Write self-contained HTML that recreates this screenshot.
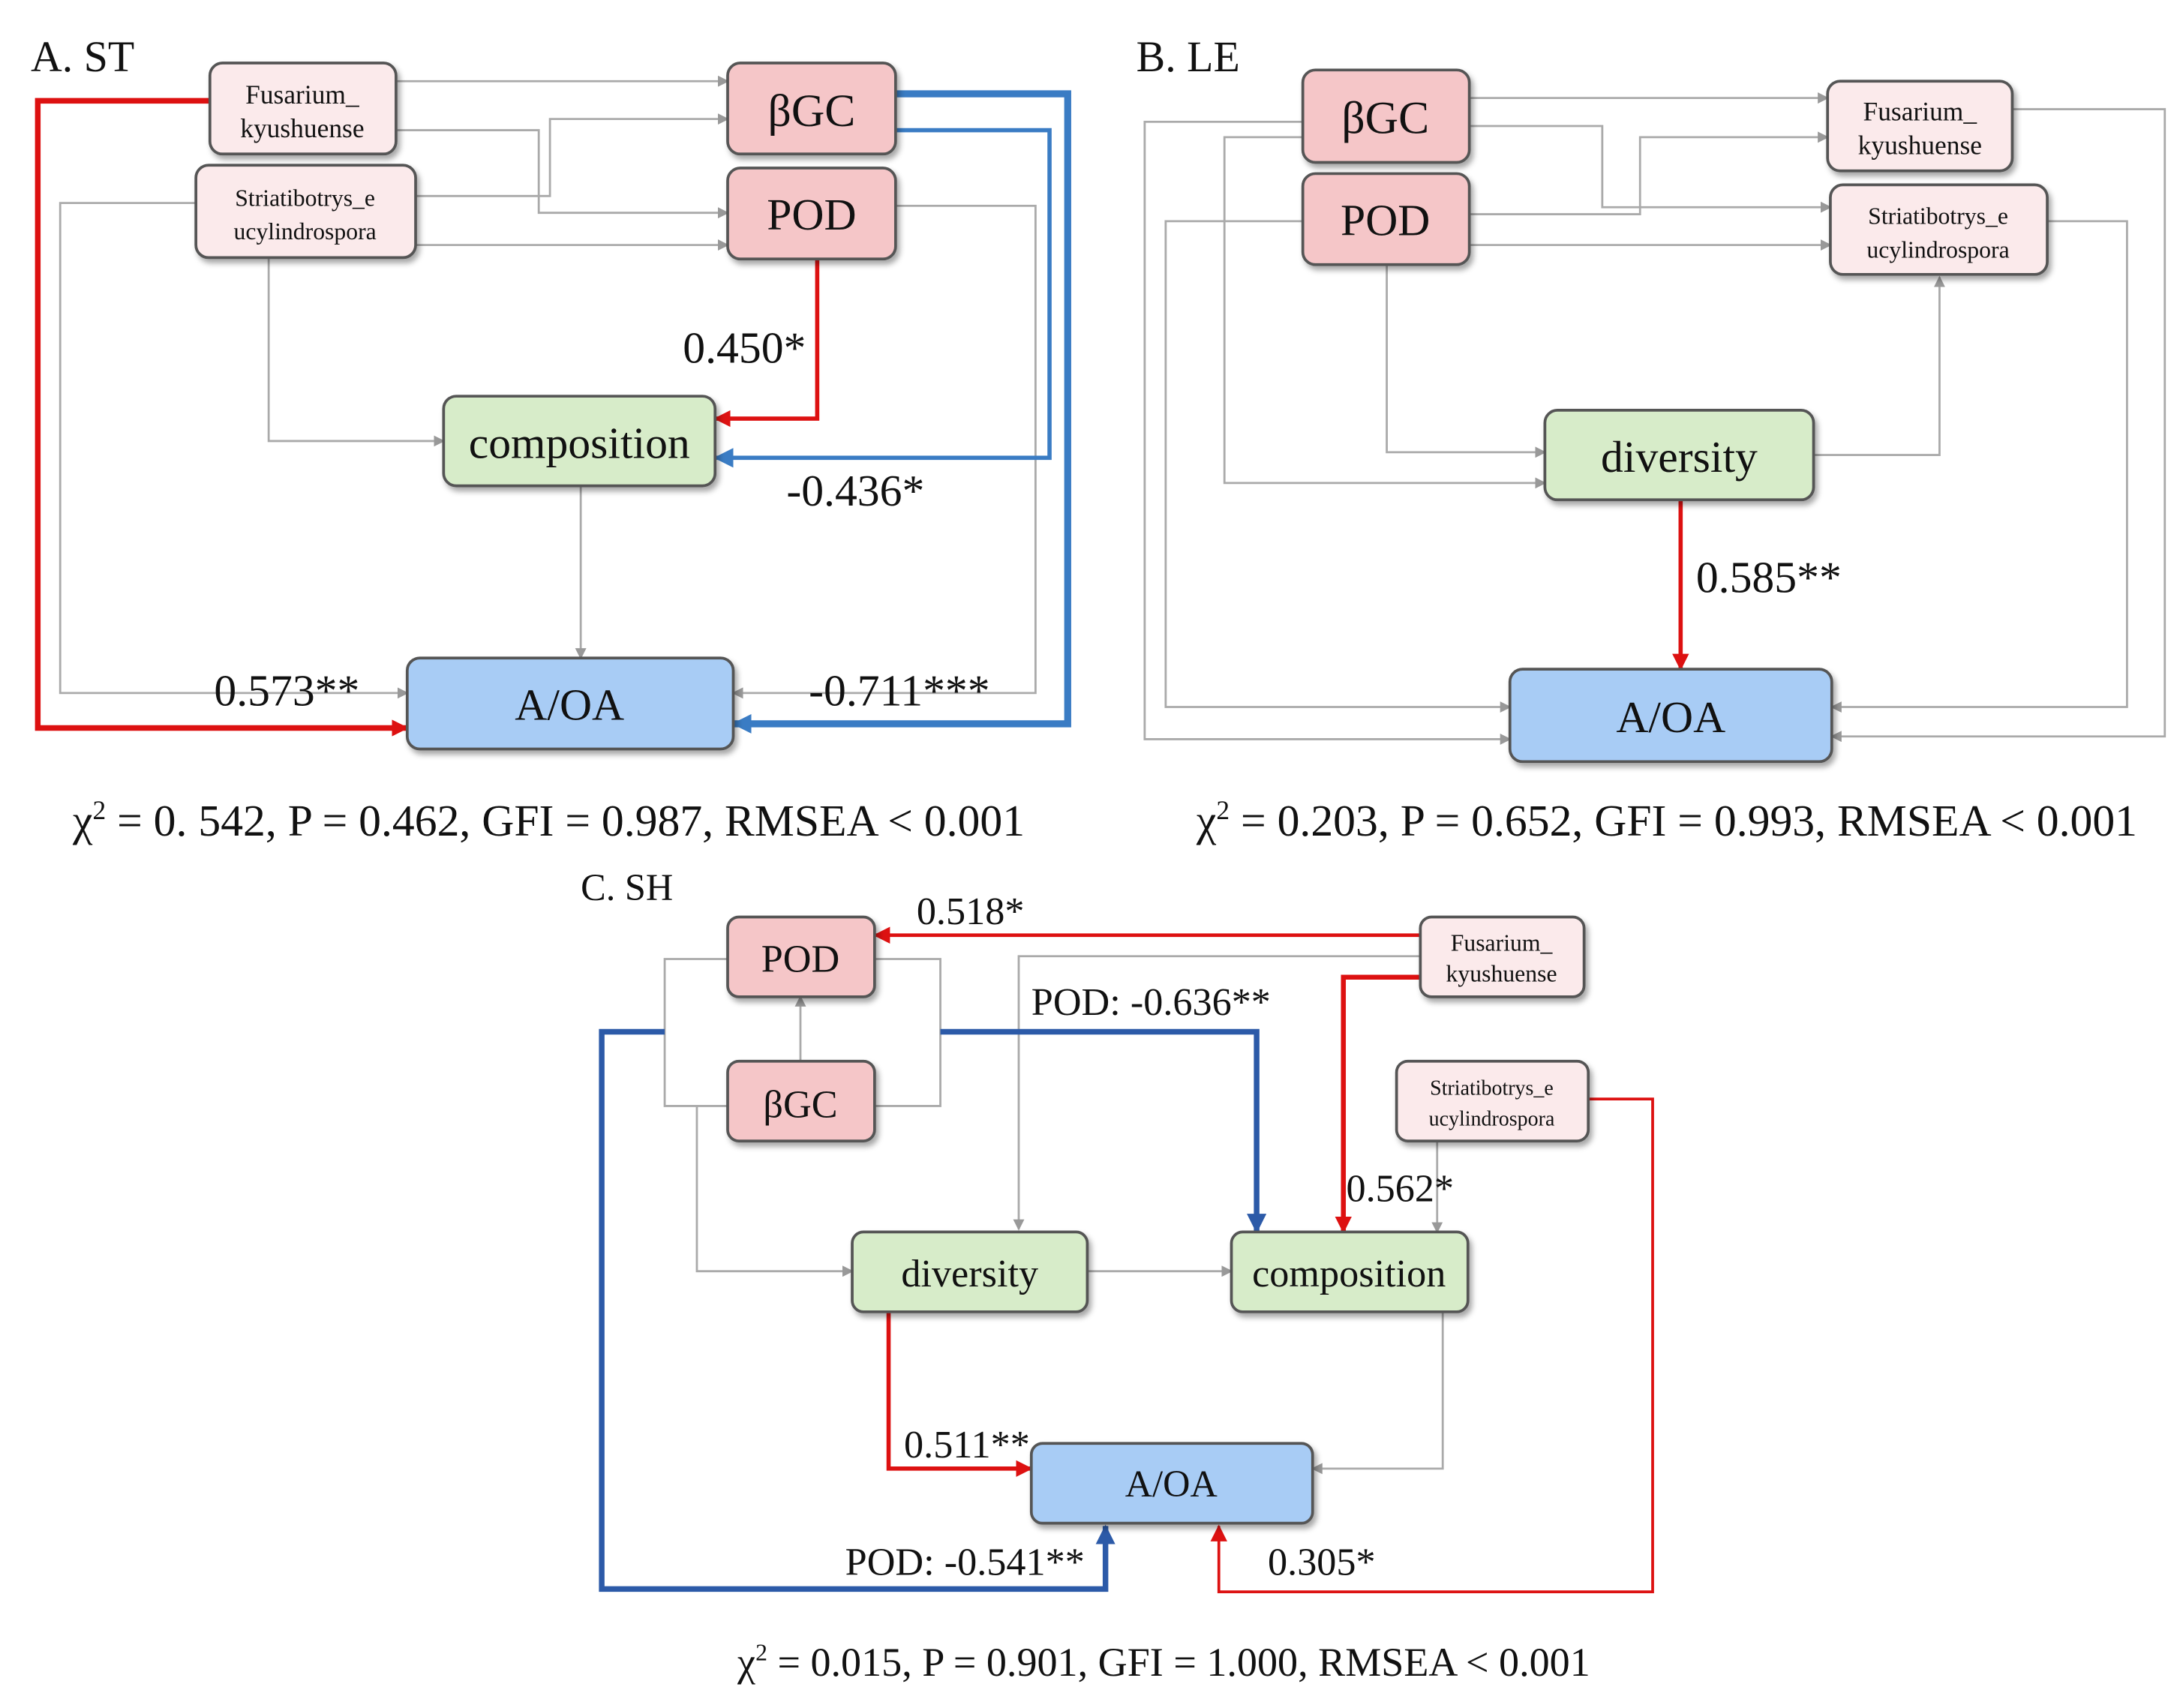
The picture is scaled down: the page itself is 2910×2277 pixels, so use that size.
<!DOCTYPE html>
<html><head><meta charset="utf-8"><style>
html,body{margin:0;padding:0;background:#fff;}
svg{display:block;}
text{font-family:"Liberation Serif",serif;fill:#111;}
</style></head><body>
<svg width="2910" height="2277" viewBox="0 0 1560 1220" preserveAspectRatio="none" xmlns="http://www.w3.org/2000/svg">
<defs>
<marker id="ag" markerWidth="8" markerHeight="8" refX="7" refY="4" orient="auto" markerUnits="userSpaceOnUse"><path d="M0,0 L8,4 L0,8 z" fill="#999"/></marker>
<marker id="ar" markerWidth="12" markerHeight="12" refX="11" refY="6" orient="auto" markerUnits="userSpaceOnUse"><path d="M0,0 L12,6 L0,12 z" fill="#d11"/></marker>
<marker id="ab" markerWidth="14" markerHeight="14" refX="13" refY="7" orient="auto" markerUnits="userSpaceOnUse"><path d="M0,0 L14,7 L0,14 z" fill="#3a7cc4"/></marker>
<marker id="ab2" markerWidth="14" markerHeight="14" refX="13" refY="7" orient="auto" markerUnits="userSpaceOnUse"><path d="M0,0 L14,7 L0,14 z" fill="#2c5aa8"/></marker>
<filter id="sh" x="-10%" y="-10%" width="125%" height="130%"><feDropShadow dx="2" dy="3" stdDeviation="2" flood-color="#000" flood-opacity="0.35"/></filter>
</defs>
<g fill="none" stroke-linejoin="miter">
<g stroke="#aaa" stroke-width="1.5" marker-end="url(#ag)">
<polyline points="283,58 520,58"/>
<polyline points="283,93 385,93 385,152 520,152"/>
<polyline points="297,140 393,140 393,85 520,85"/>
<polyline points="297,175 520,175"/>
<polyline points="140,145 43,145 43,495 291,495"/>
<polyline points="192,184 192,315 317,315"/>
<polyline points="640,147 740,147 740,495 524,495"/>
<polyline points="415,347 415,470"/>
</g>
<polyline points="150,72 27,72 27,520 291,520" stroke="#d11" stroke-width="4" marker-end="url(#ar)"/>
<polyline points="584,185 584,299 511,299" stroke="#d11" stroke-width="3" marker-end="url(#ar)"/>
<polyline points="640,67 763,67 763,517 524,517" stroke="#3a7cc4" stroke-width="5" marker-end="url(#ab)"/>
<polyline points="640,93 750,93 750,327 511,327" stroke="#3a7cc4" stroke-width="3" marker-end="url(#ab)"/>
<g stroke="#aaa" stroke-width="1.5" marker-end="url(#ag)">
<polyline points="1050,70 1306,70"/>
<polyline points="1050,90 1145,90 1145,148 1308,148"/>
<polyline points="1050,153 1172,153 1172,98 1306,98"/>
<polyline points="1050,175 1308,175"/>
<polyline points="931,87 818,87 818,528 1079,528"/>
<polyline points="931,98 875,98 875,345 1104,345"/>
<polyline points="931,158 833,158 833,505 1079,505"/>
<polyline points="991,189 991,323 1104,323"/>
<polyline points="1296,325 1386,325 1386,198"/>
<polyline points="1438,78 1547,78 1547,526 1309,526"/>
<polyline points="1463,158 1520,158 1520,505 1309,505"/>
</g>
<polyline points="1201,357 1201,478" stroke="#d11" stroke-width="3" marker-end="url(#ar)"/>
<g stroke="#aaa" stroke-width="1.5">
<polyline points="520,685 475,685 475,790 520,790"/>
<polyline points="625,790 672,790 672,685 625,685"/>
<polyline points="572,758 572,712" marker-end="url(#ag)"/>
<polyline points="1015,683 728,683 728,878" marker-end="url(#ag)"/>
<polyline points="498,790 498,908 609,908" marker-end="url(#ag)"/>
<polyline points="777,908 880,908" marker-end="url(#ag)"/>
<polyline points="1027,815 1027,880" marker-end="url(#ag)"/>
<polyline points="1031,937 1031,1049 938,1049" marker-end="url(#ag)"/>
</g>
<polyline points="1015,668 625,668" stroke="#d11" stroke-width="2.5" marker-end="url(#ar)"/>
<polyline points="1015,698 960,698 960,880" stroke="#d11" stroke-width="3.5" marker-end="url(#ar)"/>
<polyline points="635,937 635,1049 737,1049" stroke="#d11" stroke-width="3" marker-end="url(#ar)"/>
<polyline points="1135,785 1181,785 1181,1137 871,1137 871,1090" stroke="#d11" stroke-width="2" marker-end="url(#ar)"/>
<polyline points="475,737 430,737 430,1135 790,1135 790,1090" stroke="#2c5aa8" stroke-width="4" marker-end="url(#ab2)"/>
<polyline points="672,737 898,737 898,880" stroke="#2c5aa8" stroke-width="4" marker-end="url(#ab2)"/>
</g>
<g stroke="#555" stroke-width="2" filter="url(#sh)">
<rect x="150" y="45" width="133" height="65" rx="9" fill="#fbeaeb"/>
<rect x="140" y="118" width="157" height="66" rx="9" fill="#fbeaeb"/>
<rect x="520" y="45" width="120" height="65" rx="9" fill="#f5c6c8"/>
<rect x="520" y="120" width="120" height="65" rx="9" fill="#f5c6c8"/>
<rect x="317" y="283" width="194" height="64" rx="9" fill="#d7ecc9"/>
<rect x="291" y="470" width="233" height="65" rx="9" fill="#a8ccf5"/>
<rect x="931" y="50" width="119" height="66" rx="9" fill="#f5c6c8"/>
<rect x="931" y="124" width="119" height="65" rx="9" fill="#f5c6c8"/>
<rect x="1306" y="58" width="132" height="64" rx="9" fill="#fbeaeb"/>
<rect x="1308" y="132" width="155" height="64" rx="9" fill="#fbeaeb"/>
<rect x="1104" y="293" width="192" height="64" rx="9" fill="#d7ecc9"/>
<rect x="1079" y="478" width="230" height="66" rx="9" fill="#a8ccf5"/>
<rect x="520" y="655" width="105" height="57" rx="8" fill="#f5c6c8"/>
<rect x="520" y="758" width="105" height="57" rx="8" fill="#f5c6c8"/>
<rect x="1015" y="655" width="117" height="57" rx="8" fill="#fbeaeb"/>
<rect x="998" y="758" width="137" height="57" rx="8" fill="#fbeaeb"/>
<rect x="609" y="880" width="168" height="57" rx="8" fill="#d7ecc9"/>
<rect x="880" y="880" width="169" height="57" rx="8" fill="#d7ecc9"/>
<rect x="737" y="1031" width="201" height="57" rx="8" fill="#a8ccf5"/>
</g>
<g text-anchor="middle">
<text x="216" y="74" font-size="19">Fusarium_</text><text x="216" y="98" font-size="19">kyushuense</text>
<text x="218" y="147" font-size="17">Striatibotrys_e</text><text x="218" y="171" font-size="17">ucylindrospora</text>
<text x="580" y="90" font-size="33">βGC</text>
<text x="580" y="164" font-size="32">POD</text>
<text x="414" y="327" font-size="32">composition</text>
<text x="407" y="514" font-size="32">A/OA</text>
<text x="990" y="95" font-size="33">βGC</text>
<text x="990" y="168" font-size="32">POD</text>
<text x="1372" y="86" font-size="19">Fusarium_</text><text x="1372" y="110" font-size="19">kyushuense</text>
<text x="1385" y="160" font-size="17">Striatibotrys_e</text><text x="1385" y="184" font-size="17">ucylindrospora</text>
<text x="1200" y="337" font-size="32">diversity</text>
<text x="1194" y="523" font-size="32">A/OA</text>
<text x="572" y="694" font-size="28">POD</text>
<text x="572" y="798" font-size="28">βGC</text>
<text x="1073" y="679" font-size="17">Fusarium_</text><text x="1073" y="701" font-size="17">kyushuense</text>
<text x="1066" y="782" font-size="15">Striatibotrys_e</text><text x="1066" y="804" font-size="15">ucylindrospora</text>
<text x="693" y="919" font-size="28">diversity</text>
<text x="964" y="919" font-size="28">composition</text>
<text x="837" y="1069" font-size="27">A/OA</text>
</g>
<g font-size="32">
<text x="22" y="51" font-size="31">A. ST</text>
<text x="812" y="51" font-size="31">B. LE</text>
<text x="415" y="643" font-size="27">C. SH</text>
<text x="488" y="259">0.450*</text>
<text x="562" y="361">-0.436*</text>
<text x="578" y="504">-0.711***</text>
<text x="153" y="504">0.573**</text>
<text x="1212" y="423">0.585**</text>
<text x="655" y="660" font-size="28">0.518*</text>
<text x="737" y="725" font-size="28">POD: -0.636**</text>
<text x="962" y="858" font-size="28">0.562*</text>
<text x="646" y="1041" font-size="28">0.511**</text>
<text x="604" y="1125" font-size="28">POD: -0.541**</text>
<text x="906" y="1125" font-size="28">0.305*</text>
</g>
<g font-size="32">
<text x="52" y="597">χ<tspan font-size="19" dy="-12">2</tspan><tspan dy="12"> = 0. 542, P = 0.462, GFI = 0.987, RMSEA &lt; 0.001</tspan></text>
<text x="855" y="597">χ<tspan font-size="19" dy="-12">2</tspan><tspan dy="12"> = 0.203, P = 0.652, GFI = 0.993, RMSEA &lt; 0.001</tspan></text>
<text x="527" y="1197" font-size="29">χ<tspan font-size="17" dy="-11">2</tspan><tspan dy="11"> = 0.015, P = 0.901, GFI = 1.000, RMSEA &lt; 0.001</tspan></text>
</g>
</svg>
</body></html>
